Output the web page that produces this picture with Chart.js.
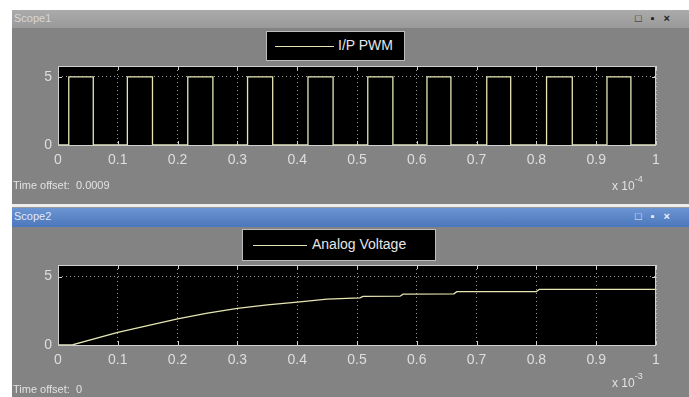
<!DOCTYPE html>
<html>
<head>
<meta charset="utf-8">
<script src="https://cdn.jsdelivr.net/npm/chart.js@4/dist/chart.umd.min.js"></script>
<style>
  body { margin: 0; width: 689px; height: 397px; background: #fff; overflow: hidden; position: relative;
         font-family: "Liberation Sans", Arial, sans-serif; }
  .abs { position: absolute; }
  .body { left: 12px; width: 677px; background: #838383; }
  .bar1 { left: 12px; top: 10px; width: 677px; height: 18px; background: linear-gradient(#ababab, #999999); }
  .bar2 { left: 12px; top: 208px; width: 677px; height: 19px; background: linear-gradient(#6b94d2, #4c77bb); }
  .title { font-size: 11px; top: 2px; left: 2px; }
  .btns { right: 10px; top: 2px; font-size: 11px; letter-spacing: 9px; font-weight: bold; }
  .sep { left: 12px; top: 204px; width: 677px; height: 3px; background: #eeeeee; border-bottom: 1px solid #9a9a9a; }
  .legend { background: #000; border: 1px solid #bdbdbd; color: #e6e6e6; font-size: 14px; }
  .legend .ln { position: absolute; height: 0; border-top: 1px solid #e4e4b8; }
  .legend .tx { position: absolute; top: 5px; }
  .small { font-size: 11px; color: #e2e2e2; }
  canvas { position: absolute; left: 12px; }
</style>
</head>
<body>
<div class="abs body" style="top:28px;height:176px"></div>
<div class="abs body" style="top:227px;height:170px"></div>
<div class="abs bar1"><span class="abs title" style="color:#d6d6d6">Scope1</span><span class="abs btns" style="color:#1e1e1e">□▪×</span></div>
<div class="abs sep"></div>
<div class="abs bar2"><span class="abs title" style="color:#dfe9ff">Scope2</span><span class="abs btns" style="color:#e8f0ff">□▪×</span></div>

<canvas id="top" width="677" height="172" style="top:28px"></canvas>
<canvas id="bottom" width="677" height="169" style="top:228px"></canvas>

<div class="abs legend" style="left:266px;top:31px;width:137px;height:28px">
  <div class="ln" style="left:8px;width:59px;top:14px"></div>
  <div class="tx" style="left:71px">I/P PWM</div>
</div>
<div class="abs legend" style="left:242px;top:229px;width:192px;height:30px">
  <div class="ln" style="left:10px;width:54px;top:15px"></div>
  <div class="tx" style="left:69px;top:6px">Analog Voltage</div>
</div>

<div class="abs small" style="left:13px;top:179px">Time offset:&nbsp;&nbsp;0.0009</div>
<div class="abs small" style="left:612px;top:177px;font-size:12px">x 10<sup style="font-size:9px;position:relative;top:-3px">-4</sup></div>
<div class="abs small" style="left:13px;top:383px">Time offset:&nbsp;&nbsp;0</div>
<div class="abs small" style="left:612px;top:374px;font-size:12px">x 10<sup style="font-size:9px;position:relative;top:-3px">-3</sup></div>

<script>
// PWM edges (time in units of 1e-4 s), each value holds until the next edge
const pwmTime = [0, 0.018, 0.059, 0.116, 0.158, 0.217, 0.259, 0.317, 0.359, 0.418, 0.46,
                 0.518, 0.56, 0.617, 0.657, 0.717, 0.757, 0.817, 0.86, 0.918, 0.958, 1];
const pwmVolt = [0, 5, 0, 5, 0, 5, 0, 5, 0, 5, 0,
                 5, 0, 5, 0, 5, 0, 5, 0, 5, 0, 0];

// analog output (time in units of 1e-3 s)
const analogTime = [0, 0.025, 0.1, 0.15, 0.2, 0.25, 0.3, 0.35, 0.4, 0.45, 0.505, 0.51,
                    0.572, 0.577, 0.662, 0.667, 0.8, 0.805, 1];
const analogVolt = [0, 0.02, 0.93, 1.42, 1.91, 2.33, 2.68, 2.94, 3.14, 3.36, 3.45, 3.55,
                    3.57, 3.72, 3.74, 3.9, 3.91, 4.07, 4.07];

const xTicks = [0, 0.1, 0.2, 0.3, 0.4, 0.5, 0.6, 0.7, 0.8, 0.9, 1];
const xTickLabels = ['0', '0.1', '0.2', '0.3', '0.4', '0.5', '0.6', '0.7', '0.8', '0.9', '1'];
const yTicks = [0, 5];

const LINE = '#e6e6b4';
const FRAME = '#cfcfcf';
const TEXT = '#dedede';

// black plot area, frame and small inside tick marks like the scope window
const scopeFrame = {
  id: 'scopeFrame',
  beforeDraw(chart) {
    const { ctx, chartArea: a } = chart;
    ctx.save();
    ctx.fillStyle = '#000';
    ctx.fillRect(a.left, a.top, a.right - a.left, a.bottom - a.top);
    ctx.restore();
  },
  afterDraw(chart) {
    const { ctx, chartArea: a, scales } = chart;
    ctx.save();
    ctx.strokeStyle = FRAME;
    ctx.lineWidth = 1;
    ctx.strokeRect(a.left + 0.5, a.top + 0.5, a.right - a.left - 1, a.bottom - a.top);
    ctx.beginPath();
    scales.x.ticks.forEach(t => {
      const x = Math.round(scales.x.getPixelForValue(t.value)) + 0.5;
      ctx.moveTo(x, a.top); ctx.lineTo(x, a.top + 4);
      ctx.moveTo(x, a.bottom); ctx.lineTo(x, a.bottom - 4);
    });
    scales.y.ticks.forEach(t => {
      const y = Math.round(scales.y.getPixelForValue(t.value)) + 0.5;
      ctx.moveTo(a.left, y); ctx.lineTo(a.left + 4, y);
      ctx.moveTo(a.right, y); ctx.lineTo(a.right - 4, y);
    });
    ctx.stroke();
    ctx.restore();
  }
};

function makeScope(id, times, values, yMax, stepped, topPad, xHeight) {
  return new Chart(document.getElementById(id), {
    type: 'line',
    data: {
      datasets: [{
        data: times.map((t, i) => ({ x: t, y: values[i] })),
        borderColor: LINE,
        borderWidth: 1.3,
        pointRadius: 0,
        stepped,
        tension: 0,
      }],
    },
    options: {
      responsive: false,
      animation: false,
      devicePixelRatio: 1,
      layout: { padding: { left: 0, right: 33, top: topPad, bottom: 0 } },
      plugins: { legend: { display: false }, tooltip: { enabled: false } },
      scales: {
        x: {
          type: 'linear',
          min: 0,
          max: 1,
          afterBuildTicks: s => { s.ticks = xTicks.map(v => ({ value: v })); },
          afterFit: s => { s.height = xHeight; },
          grid: { color: 'rgba(210,210,210,0.75)', drawTicks: false },
          border: { display: false, dash: [1, 3] },
          ticks: {
            color: TEXT,
            padding: 7,
            maxRotation: 0,
            autoSkip: false,
            font: { family: 'Liberation Sans', size: 14 },
            callback: (v, i) => xTickLabels[i],
          },
        },
        y: {
          min: 0,
          max: yMax,
          afterBuildTicks: s => { s.ticks = yTicks.map(v => ({ value: v })); },
          afterFit: s => { s.width = 46; },
          grid: { color: 'rgba(210,210,210,0.75)', drawTicks: false },
          border: { display: false, dash: [1, 3] },
          ticks: {
            color: TEXT,
            padding: 6,
            font: { family: 'Liberation Sans', size: 14 },
          },
        },
      },
    },
    plugins: [scopeFrame],
  });
}

makeScope('top', pwmTime, pwmVolt, 5.8, 'before', 38, 55);
makeScope('bottom', analogTime, analogVolt, 5.85, false, 37, 52);
</script>
</body>
</html>
